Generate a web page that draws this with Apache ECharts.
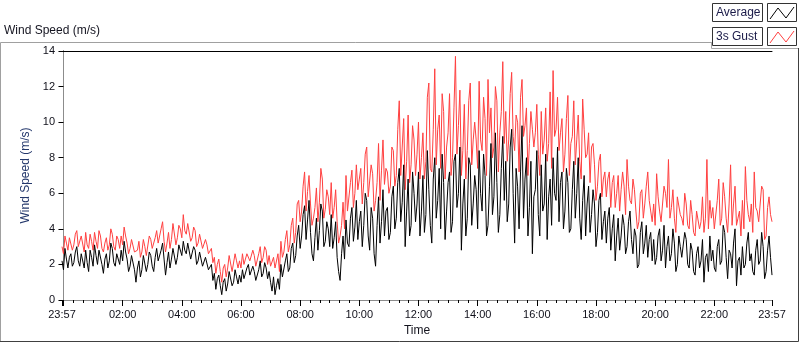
<!DOCTYPE html>
<html>
<head>
<meta charset="utf-8">
<script src="https://cdn.jsdelivr.net/npm/echarts@6/dist/echarts.min.js"></script>
<style>
  html, body { margin: 0; padding: 0; background: #fff; }
  #chart { width: 800px; height: 342px; }
</style>
</head>
<body>
<div id="chart"></div>
<script>
// samples every 3 minutes, starting 23:57 the day before (minute -3)
const START_MIN = -3
const STEP_MIN = 3

// one row per hour (20 samples)
const averageSpeed = [
  2.2, 1.7, 2.9, 2.3, 1.8, 2.4, 2.6, 1.9, 2.1, 2.7, 3.0, 2.2, 1.9, 2.6, 2.5, 1.8, 2.8, 2.1, 1.6, 2.8,
  2.4, 1.9, 3.1, 2.5, 2.0, 2.8, 2.7, 2.0, 1.5, 2.3, 2.6, 1.8, 2.2, 3.2, 2.9, 2.1, 1.9, 2.6, 2.5, 2.0,
  2.8, 2.2, 3.3, 2.7, 2.3, 1.6, 1.9, 2.5, 2.6, 1.7, 1.0, 1.8, 2.2, 1.3, 1.7, 2.5, 2.4, 1.6, 2.0, 2.7,
  2.5, 1.9, 1.6, 2.4, 2.9, 2.2, 2.1, 2.8, 3.2, 2.3, 1.4, 2.1, 2.7, 1.8, 2.3, 2.9, 3.0, 2.0, 2.4, 3.1,
  3.0, 2.5, 3.3, 2.8, 2.6, 3.2, 3.1, 2.3, 2.4, 3.0, 2.8, 2.0, 2.2, 2.7, 2.6, 1.9, 1.8, 2.4, 2.3, 1.7,
  1.6, 2.0, 1.1, 1.5, 0.6, 1.2, 1.4, 0.8, 0.3, 1.0, 1.2, 0.5, 0.9, 1.6, 1.5, 0.8, 1.0, 1.7, 1.3, 0.9,
  1.4, 1.0, 1.7, 1.2, 1.1, 1.8, 2.0, 1.4, 1.3, 1.9, 1.6, 1.1, 1.0, 1.7, 2.2, 1.3, 1.5, 2.1, 1.8, 1.2,
  1.6, 1.0, 0.5, 1.3, 0.3, 0.8, 1.2, 0.6, 2.0, 1.3, 1.4, 2.2, 2.6, 1.6, 1.8, 2.9, 3.2, 2.1, 2.5, 3.6,
  4.2, 2.9, 3.6, 4.8, 5.3, 3.4, 4.5, 5.6, 3.8, 2.6, 2.2, 3.5, 4.6, 2.8, 3.9, 5.4, 5.0, 3.0, 3.3, 4.4,
  4.0, 3.0, 4.8, 2.9, 3.5, 4.4, 2.4, 1.6, 1.1, 2.6, 3.6, 2.3, 4.5, 3.2, 3.0, 4.6, 5.2, 3.3, 4.1, 5.6,
  3.4, 4.4, 5.0, 3.0, 4.2, 6.0, 5.6, 3.6, 2.8, 5.2, 4.6, 2.6, 1.9, 4.2, 5.8, 3.2, 4.4, 6.2, 3.6, 5.0,
  5.2, 3.4, 3.8, 5.8, 6.4, 4.0, 4.6, 6.6, 7.4, 4.4, 5.5, 7.6, 3.0, 5.0, 6.8, 3.6, 4.2, 7.2, 6.0, 4.4,
  5.4, 7.2, 3.6, 5.0, 7.0, 3.8, 4.8, 8.4, 6.2, 4.2, 3.2, 6.8, 8.0, 4.6, 5.6, 7.4, 4.0, 8.2, 6.6, 3.4,
  5.0, 6.6, 7.2, 3.8, 4.4, 7.8, 8.2, 5.2, 6.0, 8.6, 2.8, 5.4, 6.8, 3.6, 4.6, 8.0, 7.6, 4.2, 5.4, 7.0,
  6.2, 4.0, 8.4, 6.0, 5.0, 8.2, 7.0, 3.6, 4.2, 6.4, 8.8, 4.8, 5.8, 9.4, 6.6, 3.8, 4.8, 7.4, 9.2, 5.6,
  7.8, 4.4, 5.4, 8.6, 9.6, 6.0, 3.2, 7.4, 6.4, 4.0, 7.2, 9.8, 4.6, 6.8, 8.0, 3.6, 5.2, 7.8, 2.6, 5.8,
  6.2, 8.4, 4.8, 3.6, 7.6, 5.0, 5.4, 8.2, 3.4, 5.8, 6.8, 4.2, 8.0, 6.0, 5.6, 8.6, 4.4, 6.6, 7.2, 4.0,
  5.0, 7.4, 6.6, 3.8, 4.0, 6.2, 7.8, 4.6, 6.0, 8.0, 4.6, 3.4, 5.6, 7.0, 3.6, 5.4, 6.4, 3.8, 4.8, 6.2,
  5.4, 3.0, 3.8, 5.6, 6.0, 3.4, 4.4, 5.0, 3.2, 4.6, 5.2, 2.8, 4.0, 4.8, 2.2, 3.6, 4.6, 2.8, 3.6, 4.8,
  4.2, 2.6, 3.0, 4.4, 5.0, 3.4, 2.6, 4.0, 3.6, 1.8, 2.0, 3.8, 4.4, 2.6, 3.2, 4.2, 2.4, 3.4, 3.8, 2.2,
  3.4, 2.0, 2.4, 3.6, 4.0, 2.2, 2.8, 4.2, 1.8, 3.0, 3.6, 2.2, 2.6, 4.0, 3.2, 1.6, 2.0, 3.6, 3.0, 2.4,
  2.4, 3.8, 3.4, 2.0, 1.8, 3.2, 2.8, 1.6, 1.4, 2.6, 3.0, 1.8, 2.2, 3.4, 1.0, 2.4, 2.6, 1.6, 3.6, 2.2,
  2.8, 1.8, 1.6, 3.0, 3.4, 2.0, 2.2, 4.2, 3.8, 2.4, 1.2, 2.8, 2.6, 1.8, 3.2, 4.0, 0.8, 2.2, 2.4, 1.4,
  3.0, 1.8, 2.0, 3.2, 3.8, 2.2, 2.6, 1.6, 1.4, 2.8, 3.4, 2.0, 2.2, 3.8, 3.0, 1.2, 1.6, 2.8, 3.6, 2.4,
  1.4
]

const gustSpeed = [
  3.0, 2.6, 3.6, 3.2, 2.8, 3.5, 3.4, 2.8, 3.1, 3.7, 3.9, 3.0, 2.9, 3.6, 3.5, 2.7, 3.8, 3.1, 2.9, 3.7,
  3.3, 2.8, 3.8, 3.3, 2.9, 3.9, 3.6, 2.9, 2.7, 3.2, 3.5, 2.8, 3.1, 4.0, 3.7, 3.0, 2.8, 3.6, 3.4, 2.9,
  3.6, 3.1, 4.1, 3.6, 3.2, 2.6, 2.9, 3.4, 3.5, 2.7, 2.6, 2.8, 3.3, 2.4, 2.7, 3.4, 3.0, 2.5, 2.6, 3.6,
  3.4, 2.9, 2.8, 3.5, 3.9, 3.2, 3.1, 4.0, 4.4, 3.3, 2.7, 3.2, 3.8, 2.9, 3.4, 4.3, 4.2, 3.1, 3.5, 4.2,
  4.0, 3.5, 4.8, 3.9, 3.7, 4.3, 4.2, 3.3, 3.5, 4.1, 3.9, 3.0, 3.2, 3.7, 3.6, 2.9, 2.8, 3.4, 3.1, 2.6,
  2.6, 2.9, 2.1, 2.4, 1.5, 2.0, 2.3, 1.6, 1.0, 1.8, 2.0, 1.3, 1.8, 2.5, 2.5, 1.6, 1.7, 2.6, 2.2, 1.8,
  2.2, 1.8, 2.6, 2.0, 2.0, 2.6, 2.7, 2.2, 2.1, 2.8, 2.5, 1.9, 1.9, 2.6, 3.0, 2.1, 2.4, 3.0, 2.8, 2.0,
  2.5, 1.9, 2.0, 2.4, 1.8, 1.7, 2.6, 1.6, 3.3, 2.4, 2.7, 3.4, 3.9, 2.7, 3.1, 4.2, 4.6, 3.2, 3.8, 5.4,
  5.6, 4.4, 5.0, 6.4, 7.2, 5.0, 6.1, 7.0, 5.4, 4.2, 4.6, 5.2, 6.3, 4.4, 5.5, 7.4, 6.8, 4.6, 5.1, 6.2,
  5.8, 4.8, 6.6, 4.6, 5.2, 6.2, 4.4, 3.2, 3.6, 4.2, 5.5, 4.0, 7.0, 5.0, 5.1, 6.6, 7.3, 5.2, 6.0, 7.6,
  6.2, 6.8, 7.4, 5.4, 6.6, 8.2, 8.6, 5.8, 5.8, 7.6, 7.1, 5.0, 5.6, 6.6, 8.8, 5.6, 7.3, 9.0, 6.5, 7.4,
  7.2, 6.0, 6.4, 8.6, 8.4, 6.4, 7.0, 9.6, 11.2, 7.0, 8.6, 10.2, 6.2, 7.8, 10.4, 6.6, 7.6, 9.8, 9.0, 7.0,
  8.2, 10.0, 6.8, 8.0, 9.4, 6.8, 7.8, 11.4, 12.2, 7.4, 7.2, 9.6, 13.0, 7.6, 9.6, 10.4, 7.4, 11.6, 10.6, 6.8,
  8.6, 9.4, 11.6, 7.0, 8.0, 10.8, 13.7, 8.2, 9.8, 11.8, 7.0, 8.4, 11.0, 6.8, 8.4, 11.2, 12.2, 7.6, 9.0, 10.0,
  9.0, 7.4, 12.3, 9.0, 8.4, 11.4, 10.2, 7.0, 12.4, 9.4, 10.8, 8.0, 8.6, 12.0, 11.2, 7.2, 9.4, 10.6, 13.4, 8.8,
  10.6, 7.8, 9.0, 11.6, 12.8, 9.2, 8.4, 10.4, 10.0, 7.2, 11.4, 12.4, 9.2, 9.8, 10.8, 7.0, 8.8, 10.6, 9.6, 8.6,
  9.4, 11.0, 8.2, 7.0, 10.6, 8.2, 9.0, 10.8, 7.8, 8.8, 11.7, 7.4, 12.9, 9.2, 9.6, 11.4, 8.4, 9.4, 10.2, 7.2,
  8.2, 10.2, 11.5, 7.0, 8.8, 9.2, 11.2, 7.6, 9.0, 10.4, 7.8, 6.8, 11.3, 9.6, 8.0, 8.2, 9.4, 6.6, 8.6, 8.8,
  7.6, 5.6, 6.4, 7.8, 8.2, 5.8, 6.8, 7.2, 5.8, 6.8, 7.2, 5.2, 6.6, 7.0, 5.2, 6.0, 7.0, 5.0, 6.2, 7.2,
  6.4, 4.8, 7.9, 6.4, 5.6, 5.4, 6.8, 6.2, 5.0, 4.0, 4.4, 6.0, 6.2, 4.6, 5.4, 6.4, 7.2, 5.6, 5.6, 4.4,
  5.4, 4.2, 7.1, 5.8, 5.0, 4.4, 4.4, 6.4, 6.0, 5.2, 7.9, 4.6, 5.2, 6.2, 4.6, 3.8, 5.8, 5.8, 4.8, 4.6,
  4.2, 6.0, 5.4, 4.2, 4.0, 5.6, 4.8, 3.8, 3.6, 5.0, 5.0, 4.0, 4.4, 5.8, 3.8, 4.6, 7.9, 4.0, 5.6, 4.6,
  5.2, 4.0, 4.0, 5.6, 6.8, 4.2, 4.6, 6.6, 5.8, 4.6, 3.8, 5.4, 7.6, 4.2, 5.4, 6.4, 4.2, 4.6, 5.0, 3.6,
  5.6, 4.0, 7.5, 5.6, 4.8, 4.4, 5.4, 3.8, 7.2, 5.2, 5.0, 4.4, 4.4, 6.4, 6.2, 3.4, 3.6, 5.2, 5.8, 4.8,
  4.4
]

// time axis, in minutes after midnight
const timeLabelValues = [-3, 120, 240, 360, 480, 600, 720, 840, 960, 1080, 1200, 1320, 1437]
const majorTickValues = [-3, 0, 120, 240, 360, 480, 600, 720, 840, 960, 1080, 1200, 1320, 1437]
const minorTickValues = [
  20, 40, 60, 80, 100, 140, 160, 180, 200, 220, 260, 280, 300, 320, 340,
  380, 400, 420, 440, 460, 500, 520, 540, 560, 580, 620, 640, 660, 680, 700,
  740, 760, 780, 800, 820, 860, 880, 900, 920, 940, 980, 1000, 1020, 1040, 1060,
  1100, 1120, 1140, 1160, 1180, 1220, 1240, 1260, 1280, 1300, 1340, 1360, 1380, 1400, 1420
]
const speedMin = 0
const speedMax = 14
const speedStep = 2

const FONT = 'Liberation Sans'

function formatMinute(value) {
  const m = ((value % 1440) + 1440) % 1440
  const hh = String(Math.floor(m / 60)).padStart(2, '0')
  const mm = String(m % 60).padStart(2, '0')
  return `${hh}:${mm}`
}

function toPairs(values) {
  return values.map((v, i) => [START_MIN + i * STEP_MIN, v])
}

function legendEntry(top, label, color) {
  return [
    { type: 'rect', shape: { x: 712.5, y: top + 0.5, width: 50, height: 18 }, style: { fill: '#fff', stroke: '#333', lineWidth: 1 } },
    { type: 'text', x: 716, y: top + 10, style: { text: label, font: `12px "${FONT}"`, fill: '#1a1a48', verticalAlign: 'middle' } },
    { type: 'rect', shape: { x: 767.5, y: top + 0.5, width: 29, height: 18 }, style: { fill: '#fff', stroke: '#333', lineWidth: 1 } },
    { type: 'polyline', shape: { points: [[770, top + 16], [778, top + 5], [786, top + 15], [794, top + 4]] }, style: { stroke: color, lineWidth: 1, fill: null } }
  ]
}

const chart = echarts.init(document.getElementById('chart'), null, { renderer: 'canvas' })

chart.setOption({
  animation: false,
  backgroundColor: '#fff',
  textStyle: { fontFamily: FONT },
  graphic: [
    // panel frame
    { type: 'polyline', shape: { points: [[711, 42.5], [0.5, 42.5], [0.5, 342]] }, style: { stroke: '#a0a0a0', lineWidth: 1, fill: null } },
    { type: 'polyline', shape: { points: [[0, 341.5], [798.5, 341.5], [798.5, 48]] }, style: { stroke: '#404040', lineWidth: 1, fill: null } },
    { type: 'polyline', shape: { points: [[711.5, 42], [711.5, 48.5], [798, 48.5]] }, style: { stroke: '#a8a8a8', lineWidth: 1, fill: null } },
    { type: 'text', x: 4, y: 25, style: { text: 'Wind Speed (m/s)', font: `12px "${FONT}"`, fill: '#141420' } },
    ...legendEntry(3, 'Average', '#000'),
    ...legendEntry(27, '3s Gust', '#ff4040')
  ],
  grid: { left: 62, right: 28, top: 51, bottom: 39, containLabel: false },
  xAxis: [
    {
      type: 'value',
      min: -3,
      max: 1437,
      name: 'Time',
      nameLocation: 'middle',
      nameGap: 25,
      nameTextStyle: { color: '#14141e', fontSize: 12, fontFamily: FONT },
      axisLine: { lineStyle: { color: '#8c8c8c', width: 1 } },
      axisTick: { customValues: majorTickValues, length: 6, lineStyle: { color: '#000' } },
      axisLabel: {
        customValues: timeLabelValues,
        formatter: formatMinute,
        color: '#10101a',
        fontSize: 11,
        fontFamily: FONT,
        margin: 9
      },
      splitLine: { show: false }
    },
    {
      type: 'value',
      min: -3,
      max: 1437,
      position: 'bottom',
      axisLine: { show: false },
      axisTick: { customValues: minorTickValues, length: 3, lineStyle: { color: '#000' } },
      axisLabel: { show: false },
      splitLine: { show: false }
    },
    {
      type: 'value',
      min: -3,
      max: 1437,
      position: 'top',
      axisLine: { lineStyle: { color: '#000', width: 1 } },
      axisTick: { show: false },
      axisLabel: { show: false },
      splitLine: { show: false }
    }
  ],
  yAxis: [
    {
      type: 'value',
      min: speedMin,
      max: speedMax,
      interval: speedStep,
      name: 'Wind Speed (m/s)',
      nameLocation: 'middle',
      nameGap: 25,
      nameTextStyle: { color: '#24386c', fontSize: 12, fontFamily: FONT },
      axisLine: { show: true, lineStyle: { color: '#000', width: 1 } },
      axisTick: { show: true, length: 5, lineStyle: { color: '#000' } },
      axisLabel: { color: '#10101a', fontSize: 11, fontFamily: FONT, margin: 7 },
      splitLine: { show: false }
    },
    {
      type: 'value',
      min: speedMin,
      max: speedMax,
      position: 'right',
      axisLine: { show: true, lineStyle: { color: '#8c8c8c', width: 1 } },
      axisTick: { show: false },
      axisLabel: { show: false },
      splitLine: { show: false }
    }
  ],
  series: [
    {
      name: '3s Gust',
      type: 'line',
      xAxisIndex: 0,
      yAxisIndex: 0,
      showSymbol: false,
      lineStyle: { color: '#ff4040', width: 1 },
      data: toPairs(gustSpeed)
    },
    {
      name: 'Average',
      type: 'line',
      xAxisIndex: 0,
      yAxisIndex: 0,
      showSymbol: false,
      lineStyle: { color: '#000', width: 1 },
      data: toPairs(averageSpeed)
    }
  ]
})
</script>
</body>
</html>
